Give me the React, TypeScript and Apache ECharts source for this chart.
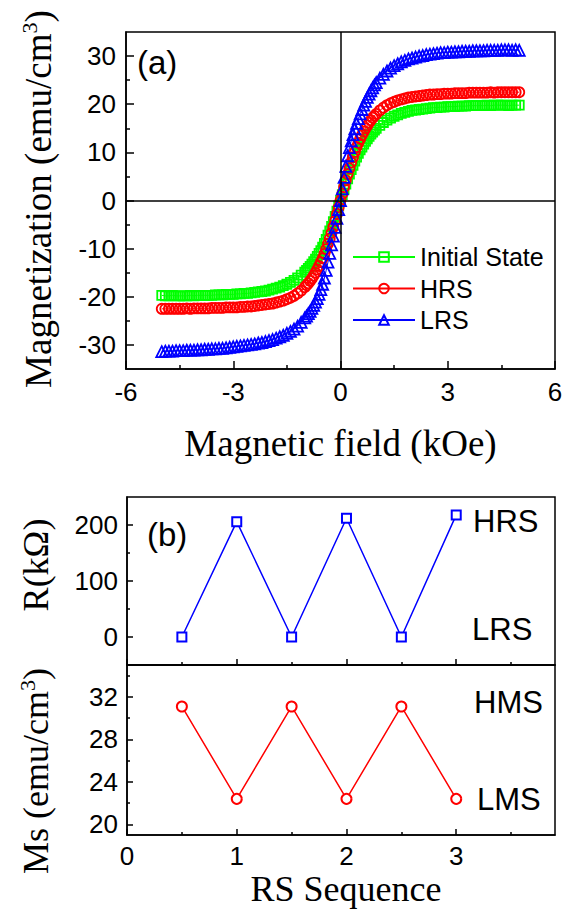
import React, { useEffect, useRef } from "react";
import * as echarts from "echarts";

// ---------- Data (a): M-H curves ----------
const field = [
  -5, -4.9, -4.8, -4.7, -4.6, -4.5, -4.4, -4.3, -4.2, -4.1,
  -4, -3.9, -3.8, -3.7, -3.6, -3.5, -3.4, -3.3, -3.2, -3.1,
  -3, -2.9, -2.8, -2.7, -2.6, -2.5, -2.4, -2.3, -2.2, -2.1,
  -2, -1.9, -1.8, -1.7, -1.6, -1.5, -1.4, -1.3, -1.2, -1.1,
  -1, -0.95, -0.9, -0.85, -0.8, -0.75, -0.7, -0.65, -0.6, -0.55,
  -0.5, -0.45, -0.4, -0.35, -0.3, -0.25, -0.2, -0.15, -0.1, -0.05,
  0,
  0.05, 0.1, 0.15, 0.2, 0.25, 0.3, 0.35, 0.4, 0.45, 0.5,
  0.55, 0.6, 0.65, 0.7, 0.75, 0.8, 0.85, 0.9, 0.95, 1,
  1.1, 1.2, 1.3, 1.4, 1.5, 1.6, 1.7, 1.8, 1.9, 2,
  2.1, 2.2, 2.3, 2.4, 2.5, 2.6, 2.7, 2.8, 2.9, 3,
  3.1, 3.2, 3.3, 3.4, 3.5, 3.6, 3.7, 3.8, 3.9, 4,
  4.1, 4.2, 4.3, 4.4, 4.5, 4.6, 4.7, 4.8, 4.9, 5,
];

const initialState = [
  -19.7, -19.8, -19.8, -19.7, -19.8, -19.8, -19.8, -19.8, -19.7, -19.8,
  -19.7, -19.7, -19.7, -19.7, -19.7, -19.6, -19.6, -19.6, -19.5, -19.5,
  -19.5, -19.4, -19.4, -19.3, -19.3, -19.2, -19.1, -19.0, -18.9, -18.8,
  -18.6, -18.4, -18.2, -18.0, -17.7, -17.4, -17.0, -16.6, -16.1, -15.5,
  -14.9, -14.5, -14.1, -13.7, -13.2, -12.7, -12.2, -11.6, -11.0, -10.4,
  -9.7, -8.9, -8.1, -7.2, -6.3, -5.4, -4.4, -3.3, -2.2, -1.1,
  0,
  1.2, 2.3, 3.4, 4.5, 5.5, 6.4, 7.3, 8.2, 9.0, 9.8,
  10.5, 11.1, 11.7, 12.3, 12.8, 13.3, 13.8, 14.2, 14.6, 15.0,
  15.6, 16.2, 16.7, 17.1, 17.5, 17.8, 18.1, 18.3, 18.5, 18.7,
  18.8, 18.9, 19.0, 19.1, 19.2, 19.3, 19.3, 19.4, 19.4, 19.5,
  19.5, 19.5, 19.6, 19.6, 19.6, 19.7, 19.7, 19.7, 19.7, 19.7,
  19.8, 19.7, 19.8, 19.8, 19.8, 19.8, 19.7, 19.8, 19.8, 19.8,
];

const hrs = [
  -22.5, -22.5, -22.5, -22.5, -22.5, -22.5, -22.5, -22.4, -22.5, -22.4,
  -22.4, -22.4, -22.4, -22.4, -22.3, -22.3, -22.3, -22.3, -22.2, -22.2,
  -22.2, -22.2, -22.1, -22.1, -22.0, -22.0, -21.9, -21.8, -21.7, -21.6,
  -21.5, -21.4, -21.2, -21.0, -20.8, -20.5, -20.2, -19.8, -19.3, -18.7,
  -18.0, -17.6, -17.2, -16.7, -16.2, -15.6, -15.0, -14.3, -13.6, -12.8,
  -12.0, -11.1, -10.1, -9.0, -7.9, -6.7, -5.5, -4.2, -2.8, -1.4,
  0,
  1.4, 2.8, 4.2, 5.5, 6.7, 7.9, 9.0, 10.1, 11.1, 12.0,
  12.8, 13.6, 14.3, 15.0, 15.6, 16.2, 16.7, 17.2, 17.6, 18.0,
  18.7, 19.3, 19.8, 20.2, 20.5, 20.8, 21.0, 21.2, 21.4, 21.5,
  21.6, 21.7, 21.8, 21.9, 22.0, 22.0, 22.1, 22.1, 22.2, 22.2,
  22.2, 22.3, 22.3, 22.3, 22.3, 22.4, 22.4, 22.4, 22.4, 22.4,
  22.4, 22.5, 22.4, 22.5, 22.5, 22.5, 22.5, 22.5, 22.5, 22.5,
];

const lrs = [
  -31.4, -31.3, -31.3, -31.3, -31.2, -31.2, -31.2, -31.1, -31.1, -31.1,
  -31.0, -31.0, -30.9, -30.9, -30.8, -30.8, -30.7, -30.7, -30.6, -30.5,
  -30.4, -30.3, -30.2, -30.1, -30.0, -29.9, -29.8, -29.6, -29.5, -29.3,
  -29.1, -28.9, -28.6, -28.3, -28.0, -27.6, -27.2, -26.7, -26.1, -25.3,
  -24.4, -24.0, -23.5, -23.0, -22.4, -21.8, -21.1, -20.4, -19.5, -18.5,
  -17.4, -16.1, -14.5, -12.8, -11.0, -9.2, -7.4, -5.6, -3.7, -1.9,
  0,
  2.4, 4.8, 7.1, 9.3, 11.0, 12.4, 13.7, 14.9, 16.0, 17.0,
  18.0, 18.9, 19.8, 20.6, 21.4, 22.1, 22.8, 23.4, 24.0, 24.5,
  25.4, 26.2, 26.9, 27.5, 28.0, 28.4, 28.8, 29.1, 29.4, 29.6,
  29.8, 30.0, 30.1, 30.3, 30.4, 30.5, 30.6, 30.7, 30.7, 30.8,
  30.8, 30.9, 30.9, 31.0, 31.0, 31.0, 31.1, 31.1, 31.1, 31.1,
  31.2, 31.2, 31.2, 31.2, 31.3, 31.3, 31.3, 31.2, 31.3, 31.2,
];

// ---------- Data (b): RS sequence ----------
const rsSequence = [0.5, 1, 1.5, 2, 2.5, 3];
const resistance = [0, 206, 0, 212, 0, 218];
const msValues = [31.1, 22.4, 31.1, 22.4, 31.1, 22.4];

// ---------- Tick values ----------
const fieldTicks = [-6, -3, 0, 3, 6];
const fieldMinor = [-4.5, -1.5, 1.5, 4.5];
const magTicks = [-30, -20, -10, 0, 10, 20, 30];
const magMinor = [-25, -15, -5, 5, 15, 25];
const seqTicks = [0, 1, 2, 3];
const seqMinor = [0.5, 1.5, 2.5, 3.5];
const rTicks = [0, 100, 200];
const rMinor = [50, 150];
const msTicks = [20, 24, 28, 32];
const msMinor = [22, 26, 30, 34];

const SANS = '"Liberation Sans", Arial, Helvetica, sans-serif';
const SERIF = '"Liberation Serif", "Times New Roman", Times, serif';

function xAx(gridIndex: number, min: number, max: number, ticks: number[], len: number, labels: boolean, line: boolean, margin = 9) {
  return {
    type: "value", gridIndex, min, max, position: "bottom",
    axisLine: { show: line, onZero: false, lineStyle: { color: "#000", width: 1.5 } },
    axisTick: { show: true, inside: true, length: len, customValues: ticks, lineStyle: { color: "#000", width: 1.5 } },
    axisLabel: { show: labels, customValues: ticks, margin, fontSize: 26, fontFamily: SANS, color: "#000" },
    splitLine: { show: false },
  };
}
function yAx(gridIndex: number, min: number, max: number, ticks: number[], len: number, labels: boolean, line: boolean, margin = 10) {
  return {
    type: "value", gridIndex, min, max, position: "left",
    axisLine: { show: line, onZero: false, lineStyle: { color: "#000", width: 1.5 } },
    axisTick: { show: true, inside: true, length: len, customValues: ticks, lineStyle: { color: "#000", width: 1.5 } },
    axisLabel: { show: labels, customValues: ticks, margin, fontSize: 26, fontFamily: SANS, color: "#000" },
    splitLine: { show: false },
  };
}

function mhSeries(name: string, values: number[], symbol: string, size: number, color: string, extra: any = {}) {
  return {
    name, type: "line", xAxisIndex: 0, yAxisIndex: 0,
    data: field.map((h, i) => [h, values[i]]),
    symbol, symbolSize: size,
    itemStyle: { color: "rgba(255,255,255,0)", borderColor: color, borderWidth: 1.8 },
    lineStyle: { color, width: 1 },
    emphasis: { disabled: true },
    ...extra,
  };
}

export default function App() {
  const ref = useRef<HTMLDivElement>(null);
  useEffect(() => {
    if (!ref.current) return;
    const chart = echarts.init(ref.current, null, { renderer: "svg" });
    const gridBox = { show: true, borderColor: "#000", borderWidth: 1.5, backgroundColor: "transparent" };
    const option: any = {
      animation: false,
      backgroundColor: "#fff",
      grid: [
        { left: 126, top: 32, width: 429, height: 337, ...gridBox },
        { left: 127, top: 497, width: 428, height: 168, ...gridBox },
        { left: 127, top: 665, width: 428, height: 170, ...gridBox },
      ],
      xAxis: [
        xAx(0, -6, 6, fieldTicks, 8, true, true, 10),
        xAx(0, -6, 6, fieldMinor, 4, false, false),
        xAx(1, 0, 3.9, seqTicks, 6, false, true),
        xAx(1, 0, 3.9, seqMinor, 3, false, false),
        xAx(2, 0, 3.9, seqTicks, 6, true, true, 8),
        xAx(2, 0, 3.9, seqMinor, 3, false, false),
      ],
      yAxis: [
        yAx(0, -35, 35, magTicks, 8, true, true, 10),
        yAx(0, -35, 35, magMinor, 4, false, false),
        yAx(1, -50, 250, rTicks, 6, true, true, 9),
        yAx(1, -50, 250, rMinor, 3, false, false),
        yAx(2, 19, 35, msTicks, 6, true, true, 9),
        yAx(2, 19, 35, msMinor, 3, false, false),
      ],
      legend: {
        data: ["Initial State", "HRS", "LRS"],
        orient: "vertical", left: 352, top: 242,
        itemWidth: 62, itemHeight: 12, itemGap: 1.5, padding: 0,
        selectedMode: false,
        textStyle: { fontSize: 25, fontFamily: SANS, color: "#000", lineHeight: 30 },
      },
      series: [
        mhSeries("Initial State", initialState, "rect", 9, "#00ff00", {
          markLine: {
            silent: true, symbol: ["none", "none"], label: { show: false },
            lineStyle: { color: "#000", width: 1.5, type: "solid" },
            emphasis: { disabled: true },
            data: [{ xAxis: 0 }, { yAxis: 0 }],
          },
        }),
        mhSeries("HRS", hrs, "circle", 10, "#ff0000"),
        mhSeries("LRS", lrs, "triangle", 11, "#0000ff"),
        {
          name: "R", type: "line", xAxisIndex: 2, yAxisIndex: 2,
          data: rsSequence.map((x, i) => [x, resistance[i]]),
          symbol: "rect", symbolSize: 9,
          itemStyle: { color: "#fff", borderColor: "#0000ff", borderWidth: 2 },
          lineStyle: { color: "#0000ff", width: 1.5 },
          emphasis: { disabled: true },
        },
        {
          name: "Ms", type: "line", xAxisIndex: 4, yAxisIndex: 4,
          data: rsSequence.map((x, i) => [x, msValues[i]]),
          symbol: "circle", symbolSize: 10,
          itemStyle: { color: "#fff", borderColor: "#ff0000", borderWidth: 2 },
          lineStyle: { color: "#ff0000", width: 1.5 },
          emphasis: { disabled: true },
        },
      ],
      graphic: [
        { type: "text", x: 137, y: 62, z: 100, style: { text: "(a)", fontSize: 33, fontFamily: SANS, fill: "#000", align: "left", verticalAlign: "middle", textAlign: "left", textVerticalAlign: "middle" } },
        { type: "text", x: 147, y: 534, z: 100, style: { text: "(b)", fontSize: 33, fontFamily: SANS, fill: "#000", align: "left", verticalAlign: "middle", textAlign: "left", textVerticalAlign: "middle" } },
        { type: "text", x: 473, y: 521, z: 100, style: { text: "HRS", fontSize: 31, fontFamily: SANS, fill: "#000", align: "left", verticalAlign: "middle", textAlign: "left", textVerticalAlign: "middle" } },
        { type: "text", x: 472, y: 629, z: 100, style: { text: "LRS", fontSize: 31, fontFamily: SANS, fill: "#000", align: "left", verticalAlign: "middle", textAlign: "left", textVerticalAlign: "middle" } },
        { type: "text", x: 474, y: 702, z: 100, style: { text: "HMS", fontSize: 31, fontFamily: SANS, fill: "#000", align: "left", verticalAlign: "middle", textAlign: "left", textVerticalAlign: "middle" } },
        { type: "text", x: 477, y: 799, z: 100, style: { text: "LMS", fontSize: 31, fontFamily: SANS, fill: "#000", align: "left", verticalAlign: "middle", textAlign: "left", textVerticalAlign: "middle" } },
        { type: "text", x: 340.5, y: 443, z: 100, style: { text: "Magnetic field (kOe)", fontSize: 37, fontFamily: SERIF, fill: "#000", align: "center", verticalAlign: "middle", textAlign: "center", textVerticalAlign: "middle" } },
        { type: "text", x: 346, y: 889, z: 100, style: { text: "RS Sequence", fontSize: 36, fontFamily: SERIF, fill: "#000", align: "center", verticalAlign: "middle", textAlign: "center", textVerticalAlign: "middle" } },
        {
          type: "text", x: 38, y: 199, rotation: Math.PI / 2, z: 100,
          style: {
            text: "{a|Magnetization (emu/cm}{s|3}{a|)}", fill: "#000",
            align: "center", verticalAlign: "middle", textAlign: "center", textVerticalAlign: "middle",
            rich: {
              a: { fontSize: 37, fontFamily: SERIF, lineHeight: 40, fill: "#000" },
              s: { fontSize: 22, fontFamily: SERIF, lineHeight: 24, verticalAlign: "top", fill: "#000" },
            },
          },
        },
        {
          type: "text", x: 36, y: 565, rotation: Math.PI / 2, z: 100,
          style: { text: "R(kΩ)", fontSize: 36, fontFamily: SERIF, fill: "#000", align: "center", verticalAlign: "middle", textAlign: "center", textVerticalAlign: "middle" },
        },
        {
          type: "text", x: 36, y: 771, rotation: Math.PI / 2, z: 100,
          style: {
            text: "{a|Ms (emu/cm}{s|3}{a|)}", fill: "#000",
            align: "center", verticalAlign: "middle", textAlign: "center", textVerticalAlign: "middle",
            rich: {
              a: { fontSize: 36, fontFamily: SERIF, lineHeight: 40, fill: "#000" },
              s: { fontSize: 22, fontFamily: SERIF, lineHeight: 24, verticalAlign: "top", fill: "#000" },
            },
          },
        },
      ],
    };
    chart.setOption(option);
    return () => chart.dispose();
  }, []);
  return <div ref={ref} style={{ position: "absolute", left: 0, top: 0, width: 572, height: 910 }} />;
}
